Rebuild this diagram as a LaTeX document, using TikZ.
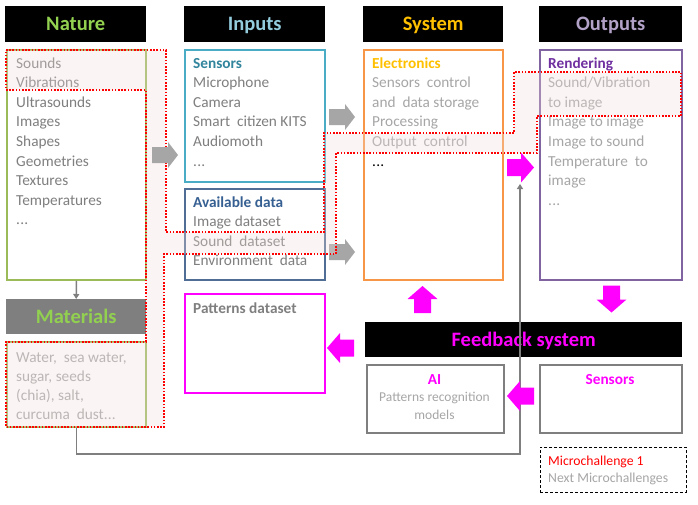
\documentclass[tikz,border=0pt]{standalone}
\usepackage{fontspec}
\setmainfont{Carlito}
\usetikzlibrary{arrows.meta}
\newcommand{\myell}{.\kern0.2pt.\kern0.2pt.}
\definecolor{natgreen}{HTML}{92D050}
\definecolor{inblue}{HTML}{93CDDD}
\definecolor{sysgold}{HTML}{FFC000}
\definecolor{outpurple}{HTML}{B3A2C7}
\definecolor{mag}{HTML}{FF00FF}
\definecolor{tgray}{HTML}{7F7F7F}
\definecolor{lgray}{HTML}{A6A6A6}
\definecolor{tealsub}{HTML}{31859C}
\definecolor{bluesub}{HTML}{376092}
\definecolor{rendpurple}{HTML}{7030A0}
\definecolor{bnat}{HTML}{9BBB59}
\definecolor{bsens}{HTML}{4BACC6}
\definecolor{bavail}{HTML}{4F6D95}
\definecolor{belec}{HTML}{F79646}
\definecolor{brend}{HTML}{8064A2}
\definecolor{arrgray}{HTML}{A6A6A6}
\definecolor{ovfill}{HTML}{F2DCDB}
\definecolor{ovred}{HTML}{FF0000}
\tikzset{
  hdr/.style={fill=black, anchor=north west, inner sep=0pt, text height=13.4pt, text depth=0pt,
    font=\fontsize{20.5}{24}\selectfont\bfseries},
  box/.style={draw=#1, line width=1.8pt, anchor=north west, inner sep=0pt},
  ltxt/.style={anchor=base west, inner sep=0pt, font=\fontsize{15.3}{18}\selectfont},
  btxt/.style={anchor=base west, inner sep=0pt, font=\fontsize{15.3}{18}\selectfont\bfseries},
  ctxt/.style={anchor=base, inner sep=0pt, font=\fontsize{15.3}{18}\selectfont\bfseries},
  stxt/.style={anchor=base, inner sep=0pt, font=\fontsize{13.5}{16}\selectfont},
  mtxt/.style={anchor=base west, inner sep=0pt, font=\fontsize{13.7}{16}\selectfont},
  gline/.style={draw=tgray, line width=1.5pt},
  ovl/.style={draw=ovred, line width=1.6pt, dash pattern=on 1.6pt off 1.6pt, fill=ovfill, fill opacity=0.3},
  garr/.pic={\fill[arrgray] (-13,-8) -- (3,-8) -- (3,-13) -- (13,0) -- (3,13) -- (3,8) -- (-13,8) -- cycle;},
  marr/.pic={\fill[mag] (-13.5,-8.5) -- (0.5,-8.5) -- (0.5,-15) -- (13.5,0) -- (0.5,15) -- (0.5,8.5) -- (-13.5,8.5) -- cycle;}
}
\begin{document}
\begin{tikzpicture}[x=1pt,y=-1pt]
\useasboundingbox (0,0) rectangle (698,504);
\fill[white] (0,0) rectangle (698,504);

% headers
\node[hdr, text=natgreen, minimum width=141pt, minimum height=36pt] (hnat) at (5,6) {Nature};
\node[hdr, text=inblue, minimum width=141pt, minimum height=36pt] (hin) at (184,6) {Inputs};
\node[hdr, text=sysgold, minimum width=140pt, minimum height=36pt] (hsys) at (363,6) {System};
\node[hdr, text=outpurple, minimum width=143pt, minimum height=36pt] (hout) at (539,6) {Outputs};
\node[hdr, fill=tgray, text=natgreen, minimum width=140pt, minimum height=35pt] (hmat) at (6,299) {Materials};

% boxes
\node[box=bnat, minimum width=139pt, minimum height=230pt] (natbox) at (6,49) {};
\node[box=bsens, minimum width=140pt, minimum height=132pt] (sensbox) at (184,49) {};
\node[box=bavail, minimum width=140pt, minimum height=91pt] (availbox) at (184,188) {};
\node[box=belec, minimum width=139pt, minimum height=230pt] (elecbox) at (363,49) {};
\node[box=brend, minimum width=142pt, minimum height=230pt] (rendbox) at (539,49) {};
\node[box=bnat, minimum width=139pt, minimum height=85pt] (matbox) at (6,341) {};
\node[box=mag, minimum width=140pt, minimum height=99pt] (patbox) at (184,293) {};
\node[box=tgray, minimum width=137pt, minimum height=68pt] (aibox) at (366,364) {};
\node[box=tgray, minimum width=142pt, minimum height=68pt] (fsbox) at (539,364) {};
\node[draw=black, line width=0.8pt, dash pattern=on 3pt off 2pt, anchor=north west, inner sep=0pt,
      minimum width=146pt, minimum height=45pt] (mcbox) at (540,447) {};

% Nature list
\foreach \t [count=\i from 0] in {Sounds,Vibrations,Ultrasounds,Images,Shapes,Geometries,Textures,Temperatures,\myell}
  \node[ltxt, text=tgray] (nat\i) at (16,68+19.6*\i) {\t};

% Sensors
\node[btxt, text=tealsub] (senst) at (193,68) {Sensors};
\foreach \t [count=\i from 1] in {Microphone,Camera,Smart\ \ citizen KITS,Audiomoth,\myell}
  \node[ltxt, text=tgray] (sens\i) at (193,68+19.6*\i) {\t};

% Available data
\node[btxt, text=bluesub] (availt) at (193,207) {Available data};
\foreach \t [count=\i from 1] in {Image dataset,Sound\ \ dataset,Environment\ \ data}
  \node[ltxt, text=tgray] (avail\i) at (193,207+19.6*\i) {\t};

% Electronics
\node[btxt, text=sysgold] (elect) at (372,68) {Electronics};
\foreach \t [count=\i from 1] in {Sensors\ \ control,and\ \ data storage,Processing,Output\ \ control}
  \node[ltxt, text=lgray] (elec\i) at (372,68+19.6*\i) {\t};
\node[ltxt, text=black] (elec5) at (372,68+19.6*5) {\myell};

% Rendering
\node[btxt, text=rendpurple] (rendt) at (548,68) {Rendering};
\foreach \t [count=\i from 1] in {Sound/Vibration,to image,Image to image,Image to sound,Temperature\ \ to,image,\myell}
  \node[ltxt, text=lgray] (rend\i) at (548,68+19.6*\i) {\t};

% Materials
\foreach \t [count=\i from 0] in {{Water,\ \ sea water,},{sugar, seeds},{(chia), salt,},{curcuma\ \ dust\myell}}
  \node[ltxt, text=lgray] (mat\i) at (16,362+19.2*\i) {\t};

% Patterns dataset
\node[btxt, text=tgray] (patt) at (193,313) {Patterns dataset};

% gray arrows (behind overlay)
\pic at (342,117) {garr};
\pic at (342,252) {garr};

% overlay
\draw[ovl] (6,50) -- (166,50) -- (166,232) -- (324,232) -- (324,133) -- (514,133) -- (514,72)
  -- (681,72) -- (681,116) -- (537,116) -- (537,153) -- (336,153) -- (336,254) -- (164,254)
  -- (164,427) -- (6,427) -- (6,342) -- (146,342) -- (146,90) -- (6,90) -- cycle;

\pic at (165,155) {garr};

% connectors
\draw[gline, -{Triangle[length=5pt,width=6pt]}] (natbox.south) -- (hmat.north);

% feedback header
\node[hdr, text=mag, minimum width=317pt, minimum height=35pt] (hfb) at (365,322) {Feedback system};

\coordinate (fbtip) at (520,184);
\draw[gline, -{Triangle[length=5pt,width=6pt]}] (matbox.south) -- ++(0,26) -| (fbtip);

% AI and feedback sensors
\node[ctxt, text=mag] (ait) at (434.5,384) {AI};
\node[stxt, text=lgray] (ai1) at (434.5,401.5) {Patterns recognition};
\node[stxt, text=lgray] (ai2) at (434.5,419) {models};
\node[ctxt, text=mag] (fst) at (610,384) {Sensors};

% microchallenges
\node[mtxt, text=ovred] (mc1) at (548,465) {Microchallenge 1};
\node[mtxt, text=lgray] (mc2) at (548,482) {Next Microchallenges};

% magenta arrows
\pic at (520.5,167.5) {marr};
\pic[rotate=-90] at (611.5,299) {marr};
\pic[rotate=90] at (422.5,299.5) {marr};
\pic[rotate=180] at (340.5,348) {marr};
\pic[rotate=180] at (520.5,396) {marr};
\end{tikzpicture}
\end{document}
